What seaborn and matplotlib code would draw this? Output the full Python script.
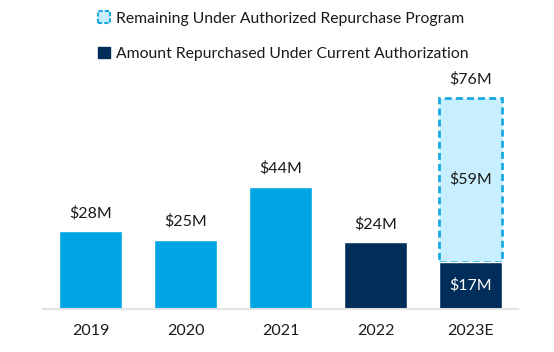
import seaborn as sns
import matplotlib.pyplot as plt
import matplotlib.patches as mpatches
import pandas as pd

# Datos
anios = ['2019', '2020', '2021', '2022', '2023E']
recomprado = [28, 25, 44, 24, 17]
restante = [0, 0, 0, 0, 59]

celeste = '#00A6E3'
azul_oscuro = '#002D5A'
celeste_claro = '#C7EFFF'
borde_punteado = '#1AA8E0'

sns.set_theme(style='white')
plt.rcParams['font.family'] = ['Lato', 'DejaVu Sans']

datos = pd.DataFrame({'anio': anios, 'recomprado': recomprado, 'restante': restante})
datos['total'] = datos['recomprado'] + datos['restante']

fig = plt.figure(figsize=(5.54, 3.52), dpi=100)
ax = fig.add_axes([0.078, 0.122, 0.857, 0.651])

colores = [celeste, celeste, celeste, azul_oscuro, celeste_claro]
sns.barplot(data=datos, x='anio', y='total', hue='anio', palette=colores,
            order=anios, width=0.67, legend=False, ax=ax, saturation=1)

# Barra estimada: solo el tramo restante lleva borde punteado
for barra, rec, rest in zip(ax.patches, recomprado, restante):
    if rest > 0:
        barra.set_y(rec)
        barra.set_height(rest)
        barra.set_edgecolor(borde_punteado)
        barra.set_linestyle((0, (2.5, 1.5)))
        barra.set_linewidth(2)

n_previo = len(ax.patches)
parcial = datos[datos['restante'] > 0]
sns.barplot(data=parcial, x='anio', y='recomprado', color=azul_oscuro,
            order=anios, width=0.67, ax=ax, saturation=1)

# Etiquetas
for barra, fila in zip(ax.patches[:n_previo], datos.itertuples()):
    cx = barra.get_x() + barra.get_width() / 2
    ax.annotate(f'${fila.total}M', (cx, fila.total), xytext=(0, 13),
                textcoords='offset points', ha='center', va='center',
                fontsize=11.5, color='#1a1a1a', annotation_clip=False)
    if fila.restante > 0:
        ax.text(cx, fila.recomprado + fila.restante / 2, f'${fila.restante}M',
                ha='center', va='center', fontsize=11.5, color='#1a1a1a')
        ax.text(cx, fila.recomprado / 2, f'${fila.recomprado}M',
                ha='center', va='center', fontsize=11.5, color='white')

ax.set_xlim(-0.5, 4.5)
ax.set_ylim(0, 82.4)
ax.set_xlabel('')
ax.set_ylabel('')
ax.set_yticks([])
sns.despine(ax=ax, left=True)
ax.spines['bottom'].set_color('#E3E3E3')
ax.spines['bottom'].set_linewidth(1.5)
ax.tick_params(axis='x', length=0, pad=11, labelsize=11.5, labelcolor='#1a1a1a')

manijas = [
    mpatches.Patch(facecolor=celeste_claro, edgecolor=borde_punteado,
                   linestyle=(0, (2, 1)), linewidth=1.5,
                   label='Remaining Under Authorized Repurchase Program'),
    mpatches.Patch(facecolor=azul_oscuro, edgecolor=azul_oscuro,
                   label='Amount Repurchased Under Current Authorization'),
]
fig.legend(handles=manijas, loc='upper left', bbox_to_anchor=(0.152, 1.008),
           frameon=False, fontsize=11.3, labelspacing=1.35,
           handlelength=0.75, handleheight=0.75, handletextpad=0.4,
           labelcolor='#1a1a1a')

plt.savefig('out.png', dpi=100)
